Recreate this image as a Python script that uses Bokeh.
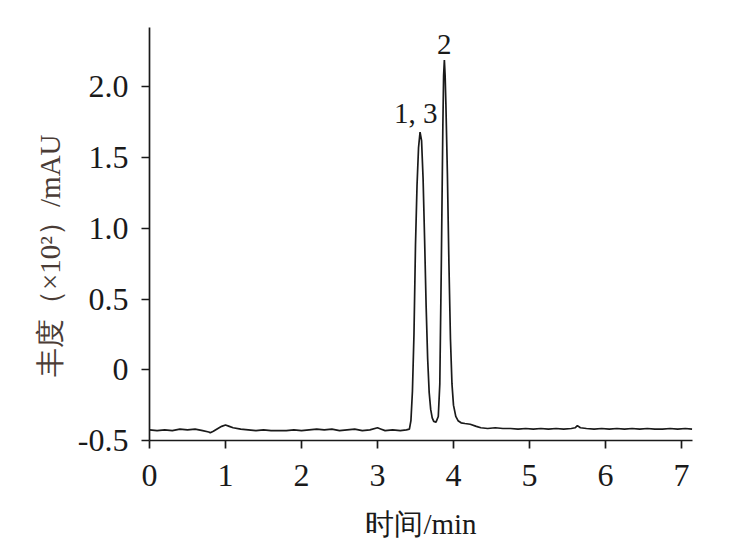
from bokeh.plotting import figure
from bokeh.models import FixedTicker, Label
from bokeh.embed import file_html
from bokeh.resources import INLINE

# Chromatogram data (time in min, abundance x10^2 mAU)
time_min = [0.00, 0.10, 0.20, 0.30, 0.40, 0.50, 0.60, 0.70, 0.78, 0.80, 0.84,
            0.90, 0.95, 1.00, 1.05, 1.10, 1.20, 1.30, 1.40, 1.50, 1.60, 1.70,
            1.80, 1.90, 2.00, 2.10, 2.20, 2.30, 2.40, 2.50, 2.60, 2.70, 2.80,
            2.90, 3.00, 3.05, 3.10, 3.20, 3.30, 3.38, 3.42, 3.44, 3.46, 3.48,
            3.50, 3.52, 3.54, 3.56, 3.58, 3.60, 3.62, 3.64, 3.66, 3.68, 3.70,
            3.72, 3.74, 3.77, 3.80, 3.82, 3.84, 3.86, 3.87, 3.88, 3.89, 3.90,
            3.92, 3.94, 3.96, 3.98, 4.00, 4.03, 4.06, 4.10, 4.15, 4.22, 4.30,
            4.36, 4.45, 4.55, 4.65, 4.75, 4.85, 4.95, 5.05, 5.15, 5.25, 5.35,
            5.45, 5.55, 5.60, 5.63, 5.67, 5.75, 5.85, 5.95, 6.05, 6.15, 6.25,
            6.35, 6.45, 6.55, 6.65, 6.75, 6.85, 6.95, 7.05, 7.14]
abundance = [-0.425, -0.43, -0.425, -0.43, -0.42, -0.425, -0.42, -0.43, -0.44, -0.445, -0.435,
             -0.415, -0.40, -0.39, -0.40, -0.41, -0.42, -0.425, -0.43, -0.425, -0.43, -0.43,
             -0.43, -0.425, -0.43, -0.425, -0.42, -0.425, -0.42, -0.43, -0.425, -0.42, -0.43,
             -0.425, -0.41, -0.42, -0.43, -0.425, -0.43, -0.425, -0.42, -0.36, -0.15, 0.25,
             0.88, 1.30, 1.57, 1.68, 1.62, 1.35, 0.92, 0.45, 0.08, -0.16, -0.28,
             -0.34, -0.365, -0.37, -0.33, -0.10, 0.75, 1.72, 2.08, 2.19, 2.08, 1.88,
             1.38, 0.75, 0.22, -0.10, -0.25, -0.33, -0.36, -0.375, -0.38, -0.385, -0.40,
             -0.41, -0.415, -0.41, -0.415, -0.415, -0.42, -0.415, -0.42, -0.415, -0.42, -0.415,
             -0.42, -0.415, -0.41, -0.395, -0.41, -0.415, -0.42, -0.415, -0.42, -0.415, -0.42,
             -0.415, -0.42, -0.415, -0.42, -0.42, -0.415, -0.42, -0.415, -0.42]

peak_labels = ["1, 3", "2"]
peak_x = [3.57, 3.88]
peak_y = [1.68, 2.19]

y_ticks = [-0.5, 0, 0.5, 1.0, 1.5, 2.0]
y_tick_text = ["-0.5", "0", "0.5", "1.0", "1.5", "2.0"]
x_ticks = [0, 1, 2, 3, 4, 5, 6, 7]

x_title = "时间/min"
y_title = "丰度（×10²）/mAU"

SERIF = "'Liberation Serif', 'Times New Roman', serif"

p = figure(output_backend="svg", toolbar_location=None,
           x_range=(0, 7.145), y_range=(-0.5, 2.42),
           frame_width=543, frame_height=413,
           min_border_left=149, min_border_right=29,
           min_border_top=27, min_border_bottom=118)
p.outline_line_color = None
p.xgrid.grid_line_color = None
p.ygrid.grid_line_color = None
p.background_fill_color = "white"
p.border_fill_color = "white"

p.line(time_min, abundance, line_color="#1a1a1a", line_width=1.7)

for lab, xx, yy, dy, dx in zip(peak_labels, peak_x, peak_y, [3, 6], [-5, 0]):
    p.add_layout(Label(x=xx, y=yy, text=lab, text_font=SERIF,
                       text_font_size="29px", text_color="#1a1a1a",
                       text_align="center", text_baseline="bottom",
                       y_offset=dy, x_offset=dx))

for ax in (p.xaxis[0], p.yaxis[0]):
    ax.axis_line_color = "#1a1a1a"
    ax.axis_line_width = 1.7
    ax.major_tick_line_color = "#1a1a1a"
    ax.major_tick_line_width = 1.7
    ax.major_tick_out = 8
    ax.major_tick_in = 0
    ax.minor_tick_line_color = None
    ax.major_label_text_font = SERIF
    ax.major_label_text_font_size = "32px"
    ax.major_label_text_color = "#1a1a1a"
    ax.axis_label_text_font = SERIF
    ax.axis_label_text_font_size = "29px"
    ax.axis_label_text_font_style = "normal"

p.xaxis[0].ticker = FixedTicker(ticks=x_ticks)
p.xaxis[0].major_label_standoff = 16
p.xaxis[0].axis_label = x_title
p.xaxis[0].axis_label_standoff = 19
p.xaxis[0].axis_label_text_color = "#1a1a1a"

p.yaxis[0].ticker = FixedTicker(ticks=y_ticks)
p.yaxis[0].major_label_overrides = {t: s for t, s in zip(y_ticks, y_tick_text)}
p.yaxis[0].major_label_standoff = 13
# trailing wide spaces push the visible title slightly below the frame centre, as in the original
p.yaxis[0].axis_label = y_title + "\u3000\u2002"
p.yaxis[0].axis_label_text_font_size = "29px"
p.yaxis[0].axis_label_standoff = 9
p.yaxis[0].axis_label_text_color = "#4a3c36"

open("out.html", "w").write(file_html(p, INLINE))
